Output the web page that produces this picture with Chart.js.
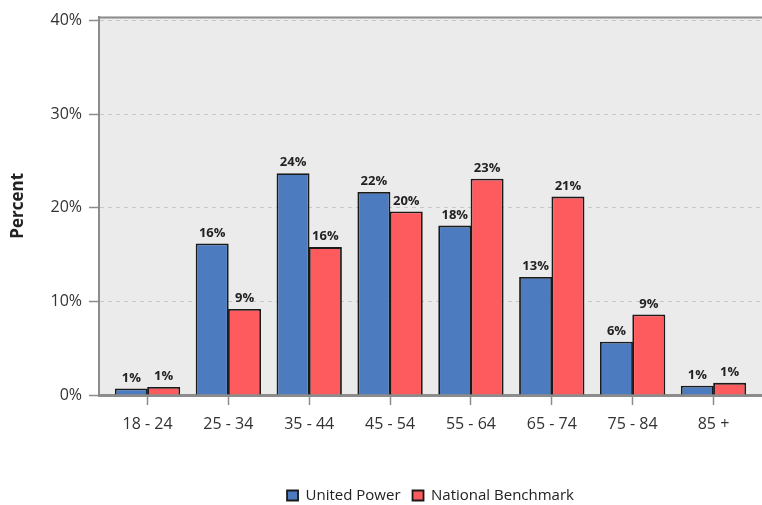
<!DOCTYPE html>
<html>
<head>
<meta charset="utf-8">
<script src="https://cdn.jsdelivr.net/npm/chart.js@4.4.1/dist/chart.umd.min.js"></script>
<style>
  body{margin:0;background:#fff}
</style>
</head>
<body>
<canvas id="myChart" width="762" height="505"></canvas>
<script>
const ageGroups=["18 - 24","25 - 34","35 - 44","45 - 54","55 - 64","65 - 74","75 - 84","85 +"]
const unitedPower=[0.7,16.2,23.7,21.7,18.1,12.6,5.7,1.0]
const nationalBenchmark=[0.85,9.2,15.8,19.6,23.1,21.2,8.6,1.3]
const yTicks=[0,10,20,30,40]

const plotBg={
  id:'plotBg',
  afterLayout(chart){
    // push the legend a bit lower, like the original
    chart.legend.top+=8
    chart.legend.bottom+=8
  },
  beforeDraw(chart){
    const {ctx,chartArea:a}=chart
    ctx.save()
    ctx.fillStyle='#ebebeb'
    ctx.fillRect(a.left,a.top,a.right-a.left,a.bottom-a.top)
    ctx.restore()
  },
  afterDraw(chart){
    const {ctx,chartArea:a}=chart
    ctx.save()
    ctx.strokeStyle='#8c8c8c'
    ctx.lineWidth=2
    ctx.beginPath()
    ctx.moveTo(a.left,a.top+1)
    ctx.lineTo(a.right,a.top+1)
    ctx.stroke()
    ctx.restore()
  }
}

const barLabels={
  id:'barLabels',
  afterDatasetsDraw(chart){
    const ctx=chart.ctx
    ctx.save()
    ctx.font='bold 13px "Open Sans"'
    ctx.fillStyle='#222'
    ctx.textAlign='center'
    ctx.textBaseline='bottom'
    chart.data.datasets.forEach((ds,i)=>{
      chart.getDatasetMeta(i).data.forEach((bar,j)=>{
        ctx.fillText(Math.round(ds.data[j])+'%',bar.x,bar.y-4)
      })
    })
    ctx.restore()
  }
}

const ctx=document.getElementById('myChart').getContext('2d')
const chart=new Chart(ctx,{
  type:'bar',
  data:{
    labels:ageGroups,
    datasets:[
      {label:'United Power',data:unitedPower,backgroundColor:'#4d7bbf',borderColor:'#1a1a1a',borderWidth:1.8},
      {label:'National Benchmark',data:nationalBenchmark,backgroundColor:'#fe5b5e',borderColor:'#1a1a1a',borderWidth:1.8}
    ]
  },
  plugins:[plotBg,barLabels],
  options:{
    responsive:false,
    animation:false,
    devicePixelRatio:1,
    layout:{padding:{top:15,right:0,left:0,bottom:0}},
    datasets:{bar:{categoryPercentage:0.8,barPercentage:1.02}},
    plugins:{
      tooltip:{enabled:false},
      legend:{
        position:'bottom',
        fullSize:false,
        labels:{
          boxWidth:11,
          boxHeight:10,
          padding:12,
          color:'#222',
          font:{family:'"Open Sans"',size:15}
        }
      }
    },
    scales:{
      x:{
        offset:true,
        afterBuildTicks:s=>{s._startValue=-0.6;s._valueRange=8.2},
        afterFit:s=>{s.height=73},
        grid:{drawOnChartArea:false,offset:false,tickLength:10,tickColor:'#8c8c8c',tickWidth:1.5},
        border:{color:'#8c8c8c',width:3},
        ticks:{color:'#333',padding:10,font:{family:'"Open Sans"',size:16}}
      },
      y:{
        min:0,
        max:40.43,
        afterBuildTicks:s=>{s.ticks=yTicks.map(v=>({value:v}))},
        afterFit:s=>{s.width=99},
        grid:{color:'#c8c8c8',tickLength:10,tickColor:'#8c8c8c',tickWidth:1.5},
        border:{color:'#8c8c8c',width:2,dash:[4,4]},
        title:{display:true,text:'Percent',color:'#222',padding:{top:8,bottom:0},font:{family:'"Open Sans"',size:17,weight:'bold'}},
        ticks:{color:'#333',padding:7,callback:v=>v+'%',font:{family:'"Open Sans"',size:16}}
      }
    }
  }
})
</script>
</body>
</html>
